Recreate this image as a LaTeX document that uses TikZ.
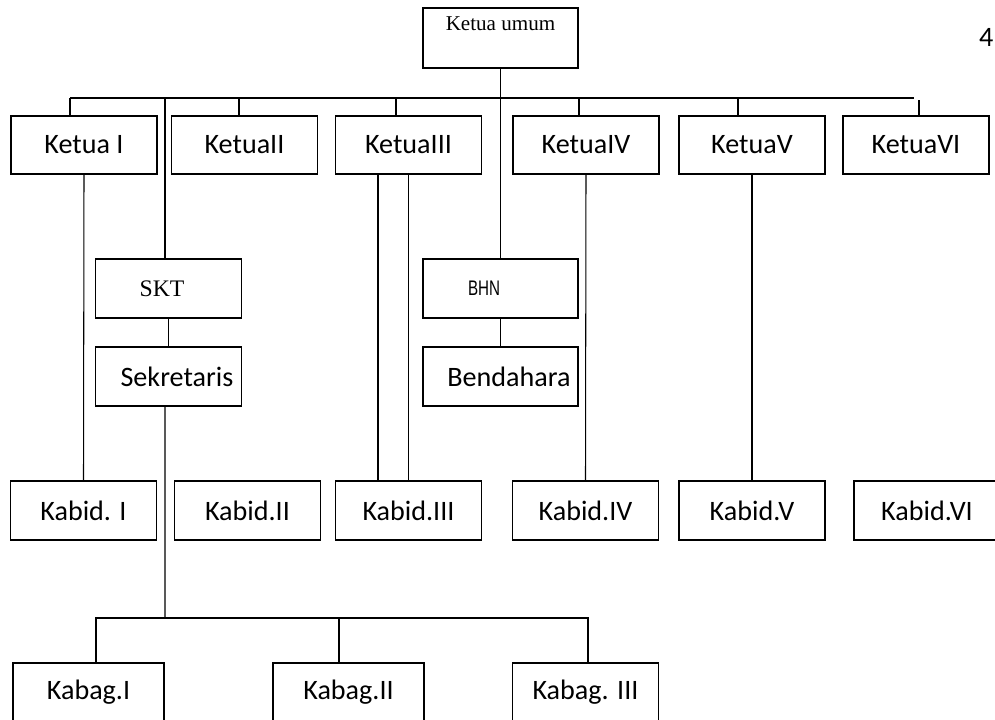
\documentclass[tikz,border=0pt]{standalone}
\usepackage{graphicx}
\usepackage{fontspec}
\setmainfont{Carlito}
\newfontfamily\timesfont{Liberation Serif}
\newfontfamily\arialfont{Liberation Sans}
\begin{document}
\begin{tikzpicture}[
    x=0.02cm, y=-0.02cm, line width=0.6pt,
    box/.style={draw, line width=1.1pt, minimum width=2.92cm, minimum height=1.17cm, inner sep=0pt, font=\fontsize{16}{19}\selectfont},
    wide/.style={box, minimum width=3.1cm},
    serif/.style={font=\timesfont\fontsize{12}{13}\selectfont}
]
\useasboundingbox (0,0) rectangle (995,720);
\clip (0,0) rectangle (995,720);

% ketua umum and page number
\node [wide, serif, text height=12.5pt, text depth=21.5pt] (umum) at (500.5,38) {Ketua umum};
\node [anchor=east, inner sep=0pt, font=\fontsize{16}{19}\selectfont] (pg) at (994,37) {4};

% ketua row
\node [box] (k1) at (84,145) {Ketua I};
\node [box] (k2) at (244.5,145) {KetuaII};
\node [box] (k3) at (408.5,145) {KetuaIII};
\node [box] (k4) at (586,145) {KetuaIV};
\node [box] (k5) at (752,145) {KetuaV};
\node [box] (k6) at (916,145) {KetuaVI};

% sekretaris / bendahara
\node [box, font=\timesfont\fontsize{13.5}{15}\selectfont] (skt) at (168.5,288.5) {SKT\hspace*{7.4pt}};
\node [box] (sek) at (168.5,376.5) {\hspace*{9.6pt}Sekretaris};
\node [wide, font=\arialfont\fontsize{12}{14}\selectfont] (bhn) at (500.5,288.5) {\scalebox{0.72}[1]{BHN}\hspace*{18.7pt}};
\node [wide] (bdh) at (500.5,376.5) {\hspace*{9.6pt}Bendahara};

% kabid row
\node [box] (b1) at (83.5,510.5) {Kabid. I};
\node [box] (b2) at (247.5,510.5) {Kabid.II};
\node [box] (b3) at (408.5,510.5) {Kabid.III};
\node [box] (b4) at (585.5,510.5) {Kabid.IV};
\node [box] (b5) at (752,510.5) {Kabid.V};
\node [box] (b6) at (927,510.5) {Kabid.VI};

% kabag row
\node [box, minimum width=3.02cm] (g1) at (88.5,692.5) {Kabag.I};
\node [box, minimum width=3.02cm] (g2) at (348.5,692.5) {Kabag.II};
\node [box] (g3) at (585.5,692.5) {Kabag. III};

% bus to the ketua row
\coordinate (busL) at (70,98);
\coordinate (busR) at (914,98);
\coordinate (vi) at (919,100);
\draw (busL) -- (busR);
\foreach \n/\d in {k1/-14, k2/-5.5, k3/-12.5, k4/-7, k5/-14}
    \draw ([xshift=\d*0.02cm]\n.north) -- ([xshift=\d*0.02cm]\n.north |- busL);
\draw (vi) -- (vi |- k6.north);
\draw (umum.south) -- (bhn.north);
\draw ([xshift=-0.07cm]skt.north) -- ([xshift=-0.07cm]skt.north |- busL);

\draw (skt.south) -- (sek.north);
\draw (bhn.south) -- (bdh.north);

% ketua to kabid
\draw (k1.south) -- (b1.north);
\draw (k3.south) -- (b3.north);
\draw ([xshift=-0.61cm]k3.south) -- ([xshift=-0.61cm]b3.north);
\draw (k4.south) -- (b4.north);
\draw (k5.south) -- (b5.north);

% sekretaris to kabag
\coordinate (kbus) at (165,618);
\draw ([xshift=-0.07cm]sek.south) -- (kbus);
\draw ([xshift=0.15cm]g1.north) |- (kbus) -| ([xshift=0.05cm]g3.north);
\draw ([xshift=-0.19cm]g2.north) -- ([xshift=-0.19cm]g2.north |- kbus);
\end{tikzpicture}
\end{document}
